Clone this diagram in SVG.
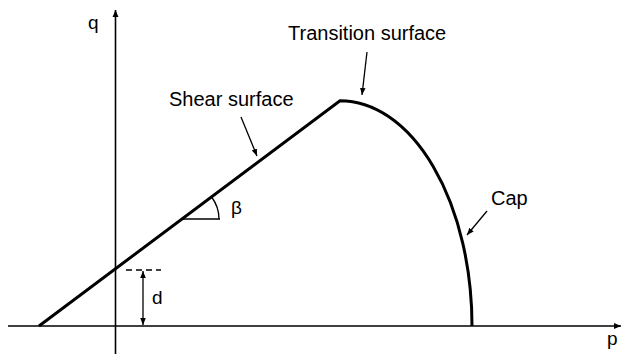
<svg xmlns="http://www.w3.org/2000/svg" width="622" height="354" viewBox="0 0 622 354">
<style>
.lbl{font-family:"Liberation Sans",Arial,sans-serif;font-size:20px;fill:#000}
.sym{font-family:"Liberation Sans",Arial,sans-serif;font-size:19px;fill:#000}
.ax{stroke:#000;stroke-width:1.6;fill:none}
.thin{stroke:#000;stroke-width:1.3;fill:none}
.thick{stroke:#000;stroke-width:3;fill:none;stroke-linejoin:miter}
</style>
<defs>
<marker id="ah" markerUnits="userSpaceOnUse" markerWidth="8" markerHeight="8" refX="7" refY="4" orient="auto">
<path d="M0,1 L7,4 L0,7 Z" fill="#000"/>
</marker>
<marker id="ahs" markerUnits="userSpaceOnUse" markerWidth="8" markerHeight="8" refX="7" refY="4" orient="auto-start-reverse">
<path d="M0,1.2 L7,4 L0,6.8 Z" fill="#000"/>
</marker>
</defs>
<rect width="622" height="354" fill="#fff"/>
<g id="connectors">
<line class="ax" x1="8" y1="326" x2="621" y2="326" marker-end="url(#ah)"/>
<line class="ax" x1="115.5" y1="354" x2="115.5" y2="10" marker-end="url(#ah)"/>
<line class="thin" x1="241" y1="117" x2="257" y2="156" marker-end="url(#ahs)"/>
<line class="thin" x1="367" y1="52" x2="362" y2="95" marker-end="url(#ahs)"/>
<line class="thin" x1="487" y1="211" x2="467" y2="235" marker-end="url(#ahs)"/>
<line class="thin" x1="143" y1="271" x2="143" y2="325" marker-start="url(#ahs)" marker-end="url(#ahs)"/>
<line class="thin" x1="126" y1="270" x2="161" y2="270" stroke-dasharray="6,4"/>
<line class="thin" x1="182" y1="219" x2="220" y2="219"/>
<path class="thin" d="M211.6,197 A37,37 0 0 1 219,219"/>
</g>
<g id="yield-surface">
<path class="thick" d="M39,326 L340,100.7 A132,225.3 0 0 1 472,326"/>
</g>
<g id="label-q"><text class="sym" x="88" y="29">q</text></g>
<g id="label-p"><text class="sym" x="607" y="345">p</text></g>
<g id="label-d"><text class="sym" x="152" y="304">d</text></g>
<g id="label-beta"><text class="sym" x="231" y="214">β</text></g>
<g id="label-shear"><text class="lbl" x="169" y="106">Shear surface</text></g>
<g id="label-transition"><text class="lbl" x="288" y="40">Transition surface</text></g>
<g id="label-cap"><text class="lbl" x="491" y="205">Cap</text></g>
</svg>
